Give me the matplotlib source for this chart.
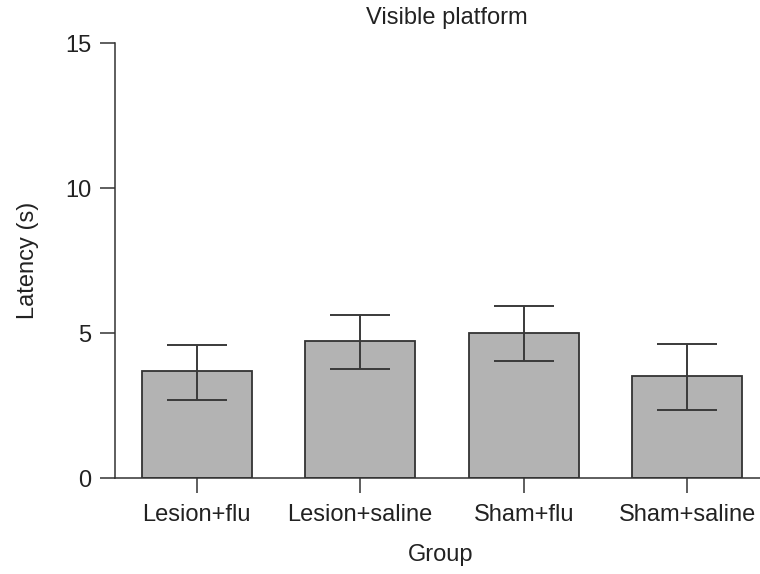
import matplotlib.pyplot as plt

plt.rcParams['font.family'] = ['Liberation Sans', 'DejaVu Sans']

# Mean latency per group with error bar ends (s)
groups = ['Lesion+flu', 'Lesion+saline', 'Sham+flu', 'Sham+saline']
latency = [3.69, 4.72, 5.02, 3.52]
err_low = [2.71, 3.76, 4.06, 2.37]
err_high = [4.60, 5.63, 5.94, 4.63]

yerr = [[m - lo for m, lo in zip(latency, err_low)],
        [hi - m for m, hi in zip(latency, err_high)]]

fig = plt.figure(figsize=(7.6, 5.74), dpi=100)
ax = fig.add_axes([0.1513, 0.1667, 0.8487, 0.7579])

x = range(len(groups))
ax.bar(x, latency, width=0.67, color='#b3b3b3', edgecolor='#333333',
       linewidth=1.3, zorder=2)
ax.errorbar(x, latency, yerr=yerr, fmt='none', ecolor='#3a3a3a',
            elinewidth=1.4, capsize=21.6, capthick=1.4, zorder=3)

ax.set_xlim(-0.5, 3.445)
ax.set_ylim(0, 15)
ax.set_yticks([0, 5, 10, 15])
ax.set_xticks(list(x))
ax.set_xticklabels(groups)

for s in ['top', 'right']:
    ax.spines[s].set_visible(False)
for s in ['left', 'bottom']:
    ax.spines[s].set_color('#333333')
    ax.spines[s].set_linewidth(1.1)

fs = 17
ax.tick_params(axis='both', length=10.8, width=1.1, color='#333333',
               labelsize=fs, labelcolor='#222222')
ax.tick_params(axis='y', pad=6)
ax.tick_params(axis='x', pad=8)

ax.set_ylabel('Latency (s)', fontsize=fs, color='#222222')
ax.yaxis.set_label_coords(-0.118, 0.5)
ax.set_xlabel('Group', fontsize=fs, color='#222222')
ax.xaxis.set_label_coords((441 - 115) / 645, -0.152)

fig.text(447 / 760, 1 - 18 / 574, 'Visible platform', fontsize=fs,
         color='#222222', ha='center', va='center')

fig.savefig('out.png', dpi=100)
